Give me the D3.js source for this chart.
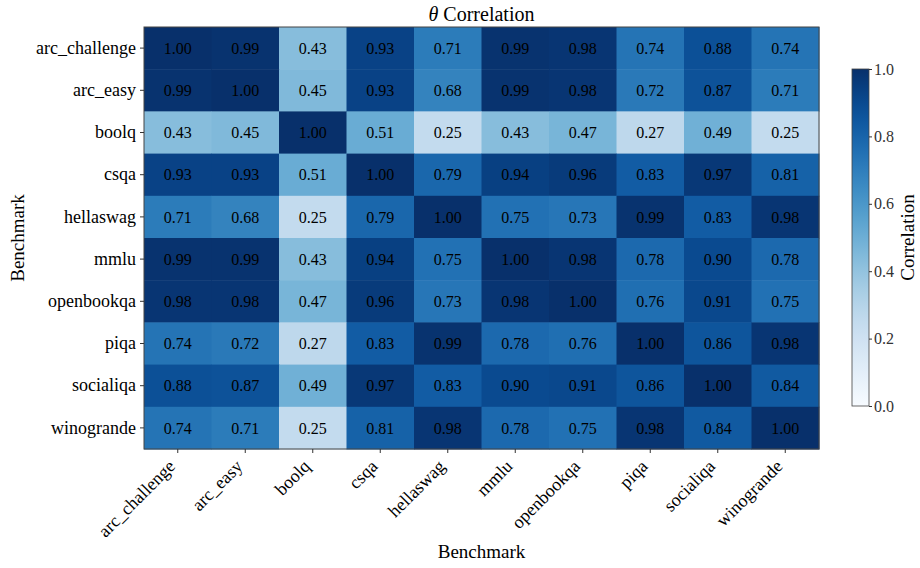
<!DOCTYPE html>
<html>
<head>
<meta charset="utf-8">
<script src="https://cdn.jsdelivr.net/npm/d3@7"></script>
<style>
  body { margin: 0; background: #fff; }
  svg, svg text { font-family: "Liberation Serif", "Times New Roman", serif; }
</style>
</head>
<body>
<div id="chart"></div>
<script>
// --- Data ---
const benchmarks = ["arc_challenge", "arc_easy", "boolq", "csqa", "hellaswag",
  "mmlu", "openbookqa", "piqa", "socialiqa", "winogrande"];

const arcChallenge = [1.00, 0.99, 0.43, 0.93, 0.71, 0.99, 0.98, 0.74, 0.88, 0.74];
const arcEasy      = [0.99, 1.00, 0.45, 0.93, 0.68, 0.99, 0.98, 0.72, 0.87, 0.71];
const boolq        = [0.43, 0.45, 1.00, 0.51, 0.25, 0.43, 0.47, 0.27, 0.49, 0.25];
const csqa         = [0.93, 0.93, 0.51, 1.00, 0.79, 0.94, 0.96, 0.83, 0.97, 0.81];
const hellaswag    = [0.71, 0.68, 0.25, 0.79, 1.00, 0.75, 0.73, 0.99, 0.83, 0.98];
const mmlu         = [0.99, 0.99, 0.43, 0.94, 0.75, 1.00, 0.98, 0.78, 0.90, 0.78];
const openbookqa   = [0.98, 0.98, 0.47, 0.96, 0.73, 0.98, 1.00, 0.76, 0.91, 0.75];
const piqa         = [0.74, 0.72, 0.27, 0.83, 0.99, 0.78, 0.76, 1.00, 0.86, 0.98];
const socialiqa    = [0.88, 0.87, 0.49, 0.97, 0.83, 0.90, 0.91, 0.86, 1.00, 0.84];
const winogrande   = [0.74, 0.71, 0.25, 0.81, 0.98, 0.78, 0.75, 0.98, 0.84, 1.00];

const matrix = [arcChallenge, arcEasy, boolq, csqa, hellaswag,
  mmlu, openbookqa, piqa, socialiqa, winogrande];

const colorbarTicks = [0.0, 0.2, 0.4, 0.6, 0.8, 1.0];

// flatten into cells
const cells = [];
matrix.forEach((row, i) => row.forEach((v, j) => {
  cells.push({ row: benchmarks[i], col: benchmarks[j], value: v });
}));

// --- Layout ---
const width = 920, height = 568;
const margin = { top: 27, right: 101, bottom: 119, left: 144 };
const serif = '"Liberation Serif", "Times New Roman", serif';

const svg = d3.select("#chart").append("svg")
  .attr("width", width)
  .attr("height", height)
  .attr("font-family", serif);

// --- Scales ---
const x = d3.scaleBand()
  .domain(benchmarks)
  .range([margin.left, width - margin.right]);

const y = d3.scaleBand()
  .domain(benchmarks)
  .range([margin.top, height - margin.bottom]);

const color = d3.scaleSequential(d3.interpolateBlues).domain([0, 1]);

// --- Cells ---
svg.append("g")
  .selectAll("rect")
  .data(cells)
  .join("rect")
  .attr("x", d => x(d.col))
  .attr("y", d => y(d.row))
  .attr("width", x.bandwidth() + 0.5)
  .attr("height", y.bandwidth() + 0.5)
  .attr("fill", d => color(d.value));

svg.append("g")
  .selectAll("text")
  .data(cells)
  .join("text")
  .attr("x", d => x(d.col) + x.bandwidth() / 2)
  .attr("y", d => y(d.row) + y.bandwidth() / 2)
  .attr("dy", "0.35em")
  .attr("text-anchor", "middle")
  .attr("font-size", 16)
  .attr("fill", "#000")
  .text(d => d.value.toFixed(2));

// frame
svg.append("rect")
  .attr("x", margin.left)
  .attr("y", margin.top)
  .attr("width", width - margin.left - margin.right)
  .attr("height", height - margin.top - margin.bottom)
  .attr("fill", "none")
  .attr("stroke", "#444")
  .attr("stroke-width", 1);

// --- Axes ---
const xAxis = svg.append("g")
  .attr("transform", `translate(0,${height - margin.bottom})`)
  .call(d3.axisBottom(x).tickSize(4).tickPadding(4));
xAxis.attr("font-family", serif);
xAxis.select(".domain").remove();
xAxis.selectAll("line").attr("stroke", "#333");
xAxis.selectAll("text")
  .attr("font-size", 18)
  .attr("fill", "#000")
  .attr("text-anchor", "end")
  .attr("x", 0)
  .attr("y", 0)
  .attr("dy", "0.35em")
  .attr("transform", "translate(-6,14) rotate(-45)");

const yAxis = svg.append("g")
  .attr("transform", `translate(${margin.left},0)`)
  .call(d3.axisLeft(y).tickSize(4).tickPadding(4));
yAxis.attr("font-family", serif);
yAxis.select(".domain").remove();
yAxis.selectAll("line").attr("stroke", "#333");
yAxis.selectAll("text")
  .attr("font-size", 18)
  .attr("fill", "#000");

// --- Titles ---
const title = svg.append("text")
  .attr("x", (margin.left + width - margin.right) / 2)
  .attr("y", 21)
  .attr("text-anchor", "middle")
  .attr("font-size", 20);
title.append("tspan").attr("font-style", "italic").text("θ");
title.append("tspan").text(" Correlation");

svg.append("text")
  .attr("x", (margin.left + width - margin.right) / 2)
  .attr("y", 558)
  .attr("text-anchor", "middle")
  .attr("font-size", 19)
  .text("Benchmark");

svg.append("text")
  .attr("transform", `translate(24,${(margin.top + height - margin.bottom) / 2}) rotate(-90)`)
  .attr("text-anchor", "middle")
  .attr("font-size", 19)
  .text("Benchmark");

// --- Colorbar ---
const cbX = 852, cbW = 17, cbTop = 69, cbBottom = 406;
const cbScale = d3.scaleLinear().domain([0, 1]).range([cbBottom, cbTop]);

const defs = svg.append("defs");
const grad = defs.append("linearGradient")
  .attr("id", "cbgrad")
  .attr("x1", 0).attr("y1", 1).attr("x2", 0).attr("y2", 0);
d3.range(0, 1.0001, 0.05).forEach(t => {
  grad.append("stop").attr("offset", t).attr("stop-color", color(t));
});

svg.append("rect")
  .attr("x", cbX)
  .attr("y", cbTop)
  .attr("width", cbW)
  .attr("height", cbBottom - cbTop)
  .attr("fill", "url(#cbgrad)")
  .attr("stroke", "#444")
  .attr("stroke-width", 0.8);

const cbAxis = svg.append("g")
  .attr("transform", `translate(${cbX + cbW},0)`)
  .call(d3.axisRight(cbScale).tickValues(colorbarTicks).tickFormat(d3.format(".1f")).tickSize(3).tickPadding(2));
cbAxis.attr("font-family", serif);
cbAxis.select(".domain").remove();
cbAxis.selectAll("line").attr("stroke", "#333");
cbAxis.selectAll("text")
  .attr("font-size", 16)
  .attr("fill", "#333");

svg.append("text")
  .attr("transform", `translate(914,${(cbTop + cbBottom) / 2}) rotate(-90)`)
  .attr("text-anchor", "middle")
  .attr("font-size", 19)
  .text("Correlation");
</script>
</body>
</html>
